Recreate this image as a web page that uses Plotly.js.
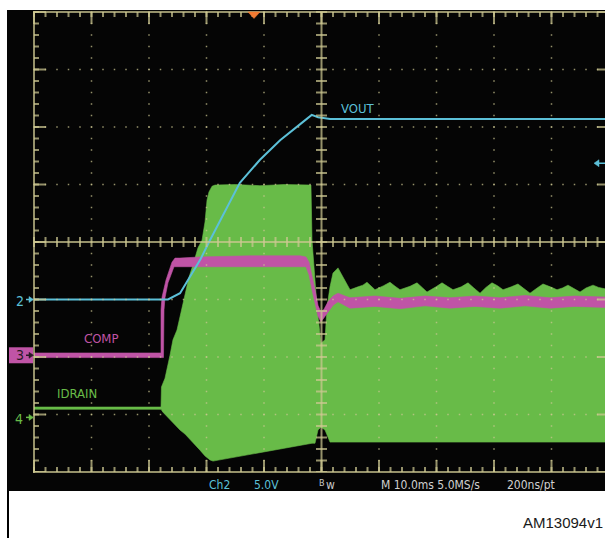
<!DOCTYPE html>
<html><head><meta charset="utf-8">
<script src="https://cdn.plot.ly/plotly-3.0.1.min.js"></script>
<style>html,body{margin:0;padding:0;background:#fff}</style>
</head><body><div id="chart" style="width:605px;height:538px"></div>
<script>
// time in ms (10 ms/div), amplitude in screen divisions (8 div high, centre = 0)
const voutT = [0, 23.3, 25.4, 27.1, 28.9, 30.6, 32.3, 35.8, 39.3, 42.8, 46.3, 48.3, 49.4, 51.5, 100];
const voutY = [-1.0, -1.0, -0.89, -0.61, -0.31, 0.03, 0.35, 1.03, 1.43, 1.77, 2.05, 2.21, 2.17, 2.14, 2.14];

// COMP trace drawn as a band (upper / lower edge of the thick trace)
const compUpT = [0, 22.09, 22.09, 22.26, 22.96, 23.48, 24.0, 24.52, 25.39, 28.87, 37.57, 46.26, 47.30, 47.83, 48.35, 48.87, 49.39, 49.91, 50.43, 51.13, 52.0, 52.87, 54.09, 54.96, 59.3, 63.65, 68.0, 72.35, 76.7, 81.04, 85.4, 89.74, 94.1, 100];
const compUpY = [-1.93, -1.93, -1.18, -0.96, -0.66, -0.50, -0.35, -0.28, -0.28, -0.26, -0.24, -0.24, -0.26, -0.35, -0.57, -0.83, -1.10, -1.22, -1.17, -1.04, -0.94, -0.89, -0.94, -0.97, -0.94, -0.98, -0.94, -0.97, -0.94, -0.97, -0.93, -0.97, -0.94, -0.96];
const compLoT = [0, 22.52, 22.61, 22.78, 23.30, 23.83, 24.35, 25.39, 28.87, 37.57, 46.26, 47.30, 47.83, 48.35, 48.87, 49.39, 49.91, 50.43, 51.13, 52.0, 52.87, 54.09, 54.96, 59.3, 63.65, 68.0, 72.35, 76.7, 81.04, 85.4, 89.74, 94.1, 100];
const compLoY = [-2.01, -2.01, -1.18, -0.97, -0.71, -0.57, -0.43, -0.42, -0.43, -0.43, -0.43, -0.43, -0.57, -0.83, -1.08, -1.29, -1.39, -1.32, -1.22, -1.10, -1.04, -1.10, -1.15, -1.12, -1.16, -1.11, -1.15, -1.12, -1.15, -1.11, -1.15, -1.12, -1.14];

// IDRAIN switching envelope (upper / lower edge)
const idrUpT = [0, 22.09, 22.17, 22.78, 23.65, 24.17, 24.87, 25.39, 25.91, 26.43, 26.96, 27.65, 28.52, 29.22, 29.74, 30.09, 30.43, 30.96, 31.48, 35.0, 39.30, 43.5, 48.17, 48.35, 49.22, 49.91, 50.61, 50.96, 51.48, 52.0, 52.87, 53.74, 54.96, 56.35, 57.2, 57.91, 58.6, 59.30, 60.8, 61.91, 62.8, 63.65, 65.4, 66.61, 67.5, 68.35, 69.9, 70.96, 71.9, 72.87, 74.3, 75.48, 76.5, 77.57, 78.6, 79.65, 80.6, 81.57, 83.0, 84.17, 85.2, 86.26, 87.5, 88.52, 89.8, 90.96, 91.9, 92.87, 93.9, 94.96, 96.0, 97.22, 98.2, 100];
const idrUpY = [-2.87, -2.87, -2.52, -2.37, -1.97, -1.70, -1.53, -1.30, -1.10, -0.83, -0.61, -0.40, -0.10, 0.03, 0.35, 0.73, 0.87, 0.97, 0.99, 1.00, 0.98, 1.00, 0.99, 0.03, -1.13, -1.76, -1.70, -1.13, -0.78, -0.54, -0.45, -0.61, -0.83, -0.78, -0.75, -0.70, -0.76, -0.83, -0.76, -0.70, -0.77, -0.83, -0.77, -0.71, -0.79, -0.87, -0.78, -0.71, -0.77, -0.83, -0.78, -0.71, -0.80, -0.89, -0.79, -0.71, -0.76, -0.83, -0.78, -0.73, -0.81, -0.89, -0.80, -0.73, -0.78, -0.83, -0.80, -0.75, -0.81, -0.87, -0.80, -0.75, -0.79, -0.83];
const idrLoT = [0, 22.09, 22.43, 22.96, 23.65, 24.52, 25.39, 26.26, 27.13, 28.0, 28.87, 29.74, 30.61, 31.13, 39.30, 48.35, 48.87, 49.39, 49.91, 50.61, 51.48, 52.35, 72.35, 100];
const idrLoY = [-2.91, -2.91, -2.96, -3.03, -3.10, -3.18, -3.27, -3.34, -3.44, -3.53, -3.62, -3.72, -3.79, -3.81, -3.66, -3.50, -3.50, -3.27, -3.22, -3.27, -3.48, -3.48, -3.48, -3.48];

// ground reference levels of the channels (div)
const ch2Gnd = -1.0, ch3Gnd = -1.97, ch4Gnd = -3.05;
const ch2Pos = 1.37;      // right-hand position arrow
const trigT = 38.26;      // trigger marker (ms)

const traceLabels = ['VOUT', 'COMP', 'IDRAIN'];
const statusTexts = ['Ch2', '5.0V', 'w', 'M 10.0ms 5.0MS/s', '200ns/pt'];
const bwMark = 'B';
const figId = 'AM13094v1';

const CY = '#5cc0d8', MG = '#c054a6', GR = '#68bb48';
const G = 'rgba(205,200,145,0.72)';
const SCF = "'Liberation Sans Narrow','DejaVu Sans Condensed','Arial Narrow',sans-serif";

const xr = [-4.6957, 99.3043], yr = [-4.3304, 4.0348];
const px = v => v / 5.75, py = v => v / 57.5;
const X0 = 0, X1 = 100, Y0 = -4, Y1 = 4;

function band(upT, upY, loT, loY) {
  return {x: upT.concat(loT.slice().reverse()), y: upY.concat(loY.slice().reverse())};
}
const gB = band(idrUpT, idrUpY, idrLoT, idrLoY);
const mB = band(compUpT, compUpY, compLoT, compLoY);

const data = [
  {type:'scatter', mode:'lines', x:gB.x, y:gB.y, fill:'toself', fillcolor:GR, line:{color:GR, width:0.6}, hoverinfo:'skip'},
  {type:'scatter', mode:'lines', x:mB.x, y:mB.y, fill:'toself', fillcolor:MG, line:{color:MG, width:0.6}, hoverinfo:'skip'},
  {type:'scatter', mode:'lines', x:voutT, y:voutY, line:{color:CY, width:2}, hoverinfo:'skip'}
];

const shapes = [];
function seg(x0, y0, x1, y1, w, dash, color) {
  shapes.push({type:'line', xref:'x', yref:'y', x0, y0, x1, y1, layer:'above',
    line:{color: color || G, width: w, dash: dash || 'solid'}});
}
function tri(pts, color) {
  shapes.push({type:'path', xref:'x', yref:'y', layer:'above',
    path: 'M' + pts.map(p => p[0] + ',' + p[1]).join('L') + 'Z',
    fillcolor: color, line:{color: color, width: 0.5}});
}
// dotted graticule
for (let i = 1; i < 10; i++) if (i !== 5) seg(i * 10, Y1 + py(0.75), i * 10, Y0, 1.5, '1.5px,10px');
for (let j = -3; j <= 3; j++) if (j !== 0) seg(X0 - px(0.75), j, X1, j, 1.5, '1.5px,10px');
// frame and centre lines
seg(X0, Y1 + py(1), X0, Y0 - py(1), 2);
seg(X0 - px(1), Y1, X1, Y1, 2);
seg(X0 - px(1), Y0, X1, Y0, 2);
seg(50, Y1, 50, Y0, 2);
seg(X0, 0, X1, 0, 2);
// tick rows
const MIN = '2px,9.5px', MAJ = '2px,55.5px';
seg(X0 - px(1), Y1 - py(2.5), X1, Y1 - py(2.5), 5, MIN);
seg(X0 - px(1), Y1 - py(6), X1, Y1 - py(6), 12, MAJ);
seg(X0 - px(1), Y0 + py(2.5), X1, Y0 + py(2.5), 5, MIN);
seg(X0 - px(1), Y0 + py(6), X1, Y0 + py(6), 12, MAJ);
seg(X0 + px(2.5), Y1 + py(1), X0 + px(2.5), Y0, 5, MIN);
seg(X0 + px(6), Y1 + py(1), X0 + px(6), Y0, 12, MAJ);
seg(X1 - px(6), Y1 + py(1), X1 - px(6), Y0, 12, MAJ);
seg(X0 - px(1), 0, X1, 0, 10, MIN);
seg(50, Y1 + py(1), 50, Y0, 11, MIN);
// trigger marker
tri([[trigT - px(6), Y1], [trigT + px(6), Y1], [trigT, Y1 - py(6.5)]], '#f27a32');
// channel ground markers
function gndArrow(y, color) {
  seg(X0 - px(8), y, X0 - px(3), y, 1.5, 'solid', color);
  tri([[X0 - px(0.5), y], [X0 - px(5), y + py(3)], [X0 - px(5), y - py(3)]], color);
}
shapes.push({type:'rect', xref:'x', yref:'y', layer:'above', x0: X0 - px(25), x1: X0 - px(1),
  y0: ch3Gnd - py(8), y1: ch3Gnd + py(8), fillcolor: MG, line:{width:0}});
gndArrow(ch2Gnd, CY);
gndArrow(ch3Gnd, '#2a1a26');
gndArrow(ch4Gnd, GR);
// right position arrow
tri([[97.39, ch2Pos], [97.39 + px(5), ch2Pos + py(3.5)], [97.39 + px(5), ch2Pos - py(3.5)]], CY);
seg(97.39 + px(4), ch2Pos, X1, ch2Pos, 1.5, 'solid', CY);
// bottom-left border line of the figure frame
shapes.push({type:'line', xref:'paper', yref:'paper', x0:0.0017, x1:0.0017, y0:0, y1:-0.0977, line:{color:'#000', width:2}});

function ann(text, x, y, color, size, anchor, family) {
  return {text, x, y, xref:'x', yref:'y', showarrow:false, xanchor: anchor || 'left', yanchor:'middle',
    font:{family: family || SCF, size: size || 13, color}};
}
const statusX = [30.09, 37.91, 50.5, 60.0, 81.91];
const statusC = [CY, CY, '#c8c8c8', '#d0d0d0', '#d0d0d0'];
const annotations = [
  ann(traceLabels[0], 53.0, 2.33, CY),
  ann(traceLabels[1], 8.35, -1.67, MG),
  ann(traceLabels[2], 3.65, -2.64, GR),
  ann('2', -2.45, ch2Gnd - 0.03, CY, 14, 'center'),
  ann('3', -2.45, ch3Gnd, '#2a1a26', 14, 'center'),
  ann('4', -2.6, ch4Gnd - 0.02, GR, 14, 'center'),
  ann(bwMark, 49.2, -4.19, '#c8c8c8', 9),
  {text: figId, x: 1, y: -0.0665, xref:'paper', yref:'paper', xanchor:'right', yanchor:'middle', showarrow:false,
   font:{family:"'Liberation Sans',Arial,sans-serif", size:15, color:'#1a1a1a'}}
];
statusTexts.forEach((t, i) => annotations.push(ann(t, statusX[i], -4.23, statusC[i], 12)));

const layout = {
  width: 605, height: 538,
  margin: {l:7, r:0, t:10, b:47, pad:0},
  paper_bgcolor: '#ffffff', plot_bgcolor: '#050505',
  showlegend: false,
  xaxis: {range: xr, showgrid:false, zeroline:false, showticklabels:false, ticks:'', showline:false, fixedrange:true},
  yaxis: {range: yr, showgrid:false, zeroline:false, showticklabels:false, ticks:'', showline:false, fixedrange:true},
  shapes, annotations
};
Plotly.newPlot('chart', data, layout, {staticPlot:true, displayModeBar:false});
</script></body></html>
